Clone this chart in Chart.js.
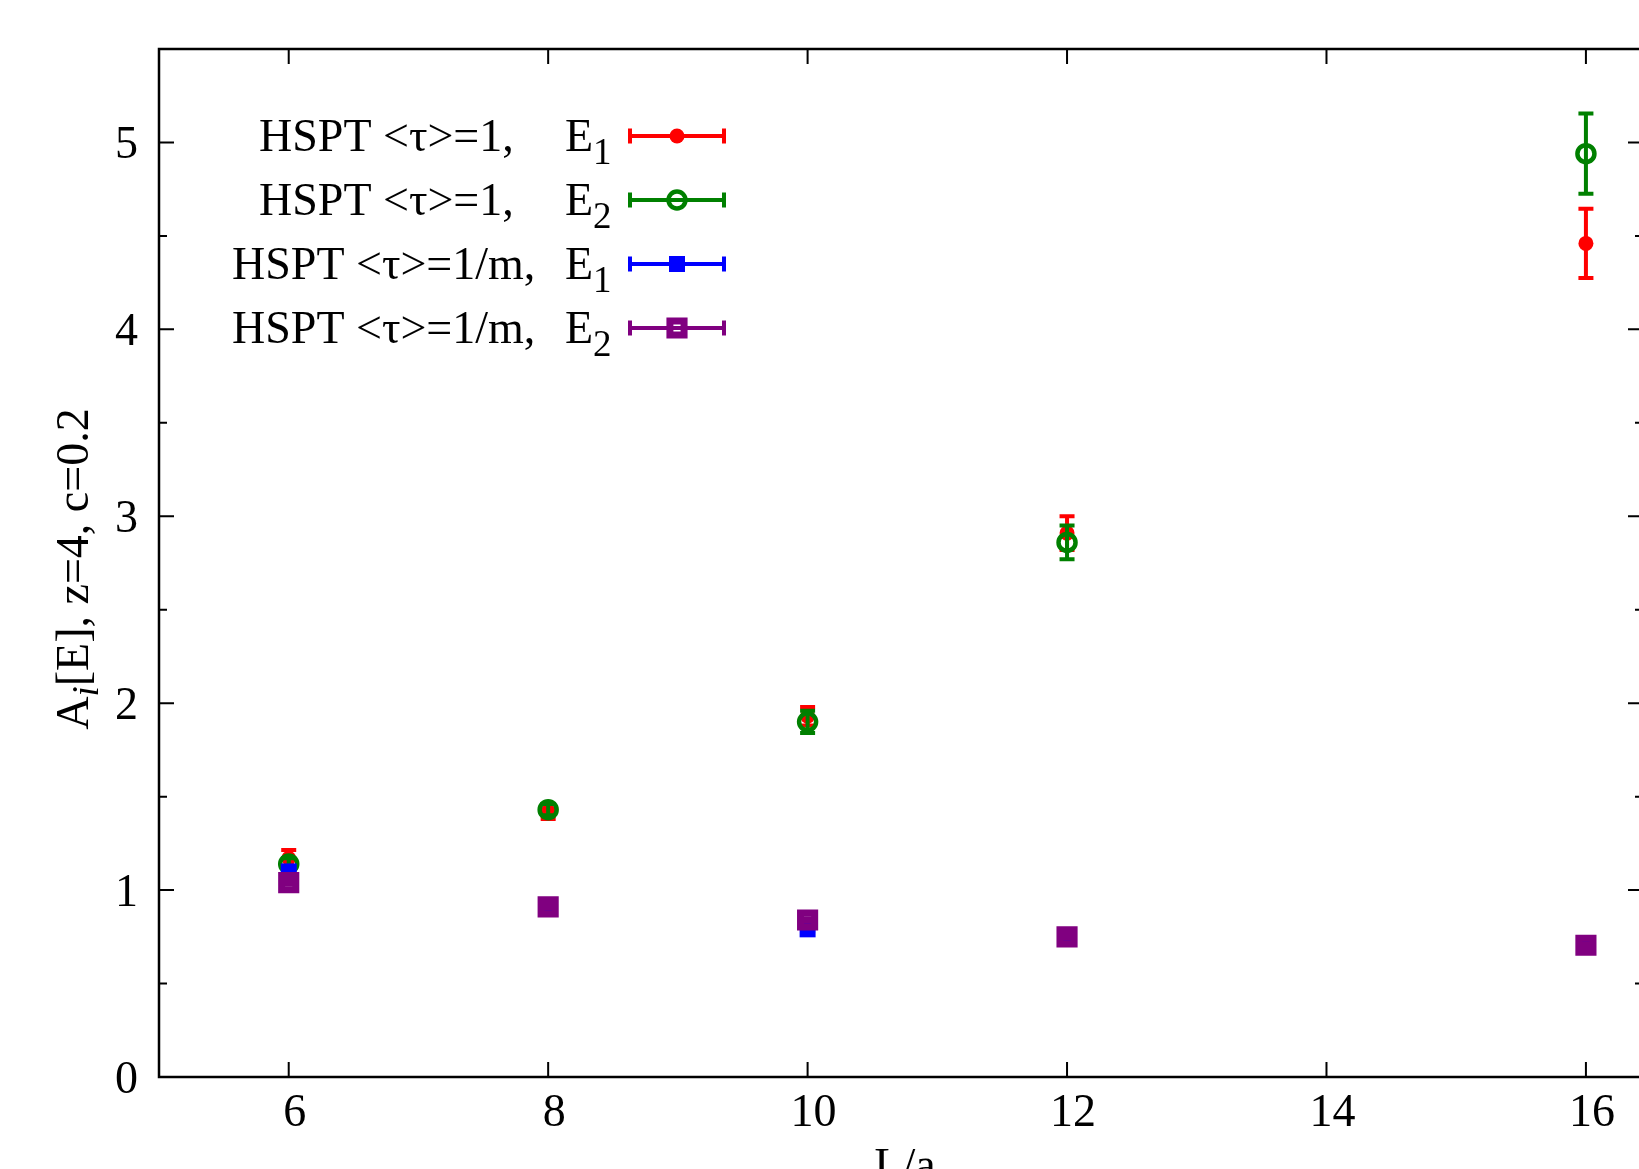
<!DOCTYPE html>
<html>
<head>
<meta charset="utf-8">
<script src="https://cdn.jsdelivr.net/npm/chart.js@4.4.1/dist/chart.umd.min.js"></script>
<style>
  html, body { margin: 0; padding: 0; background: #fff; overflow: hidden; }
  #wrap { width: 1639px; height: 1169px; overflow: hidden; }
</style>
</head>
<body>
<div id="wrap"><canvas id="plot" width="1660" height="1169"></canvas></div>
<script>
// values
const xValues = [6, 8, 10, 12, 16];

const tau1E1 = [1.17, 1.42, 1.93, 2.91, 4.46];
const tau1E1Err = [0.045, 0.04, 0.05, 0.09, 0.185];

const tau1E2 = [1.14, 1.43, 1.90, 2.86, 4.94];
const tau1E2Err = [0.03, 0.03, 0.06, 0.09, 0.215];

const taumE1 = [1.10, 0.90, 0.79, 0.74, 0.70];
const taumE1Err = [0.01, 0.01, 0.01, 0.01, 0.01];

const taumE2 = [1.04, 0.91, 0.84, 0.75, 0.705];
const taumE2Err = [0.01, 0.01, 0.01, 0.01, 0.01];

const xTicks = [6, 8, 10, 12, 14, 16];
const yTicks = [0, 1, 2, 3, 4, 5];
const yMinorTicks = [0.5, 1.5, 2.5, 3.5, 4.5];

const FONT = "'Liberation Serif', 'DejaVu Serif', serif";

function points(vals, errs) {
    return xValues.map((x, i) => ({ x: x, y: vals[i], err: errs[i] }));
}

const seriesInfo = [
    { prefix: 'HSPT <\u03c4>=1,', sub: '1', color: '#ff0000', style: 'circle', radius: 7.5, border: 0, fill: '#ff0000', px: 259 },
    { prefix: 'HSPT <\u03c4>=1,', sub: '2', color: '#008000', style: 'circle', radius: 8.5, border: 4.5, fill: 'rgba(0,0,0,0)', px: 259 },
    { prefix: 'HSPT <\u03c4>=1/m,', sub: '1', color: '#0000ff', style: 'rect', radius: 11.3, border: 0, fill: '#0000ff', px: 232 },
    { prefix: 'HSPT <\u03c4>=1/m,', sub: '2', color: '#800080', style: 'rect', radius: 10, border: 7, fill: 'rgba(0,0,0,0)', px: 232 }
];

// error bars go under each dataset's own markers
const errorBars = {
    id: 'errorBars',
    beforeDatasetDraw(chart, args) {
        const ds = chart.data.datasets[args.index];
        const ctx = chart.ctx;
        const x = chart.scales.x, y = chart.scales.y;
        ctx.save();
        ctx.strokeStyle = ds.borderColor;
        ctx.lineWidth = 4;
        ds.data.forEach(p => {
            const px = x.getPixelForValue(p.x);
            const top = y.getPixelForValue(p.y + p.err);
            const bot = y.getPixelForValue(p.y - p.err);
            ctx.beginPath();
            ctx.moveTo(px, top); ctx.lineTo(px, bot);
            ctx.moveTo(px - 7.5, top); ctx.lineTo(px + 7.5, top);
            ctx.moveTo(px - 7.5, bot); ctx.lineTo(px + 7.5, bot);
            ctx.stroke();
        });
        ctx.restore();
    }
};

// frame, ticks, labels, titles and key, gnuplot style
const frame = {
    id: 'frame',
    afterDraw(chart) {
        const ctx = chart.ctx;
        const a = chart.chartArea;
        const x = chart.scales.x, y = chart.scales.y;
        ctx.save();
        ctx.strokeStyle = '#000';
        ctx.lineWidth = 2.5;
        ctx.strokeRect(a.left, a.top, a.right - a.left, a.bottom - a.top);

        ctx.beginPath();
        xTicks.forEach(v => {
            const px = x.getPixelForValue(v);
            ctx.moveTo(px, a.bottom); ctx.lineTo(px, a.bottom - 15);
            ctx.moveTo(px, a.top); ctx.lineTo(px, a.top + 15);
        });
        yTicks.forEach(v => {
            const py = y.getPixelForValue(v);
            ctx.moveTo(a.left, py); ctx.lineTo(a.left + 15, py);
            ctx.moveTo(a.right, py); ctx.lineTo(a.right - 15, py);
        });
        yMinorTicks.forEach(v => {
            const py = y.getPixelForValue(v);
            ctx.moveTo(a.left, py); ctx.lineTo(a.left + 8, py);
            ctx.moveTo(a.right, py); ctx.lineTo(a.right - 8, py);
        });
        ctx.lineWidth = 2;
        ctx.stroke();

        ctx.fillStyle = '#000';
        ctx.font = '46px ' + FONT;
        ctx.textAlign = 'center';
        ctx.textBaseline = 'alphabetic';
        xTicks.forEach(v => {
            ctx.fillText(String(v), x.getPixelForValue(v) + 6, a.bottom + 49);
        });
        ctx.textAlign = 'right';
        yTicks.forEach(v => {
            ctx.fillText(String(v), a.left - 21, y.getPixelForValue(v) + 16);
        });

        // x title
        ctx.textAlign = 'center';
        ctx.fillText('L/a', 905, a.bottom + 103);

        // y title with italic subscript
        ctx.save();
        ctx.translate(88, 569);
        ctx.rotate(-Math.PI / 2);
        const partA = 'A', partRest = '[E], z=4, c=0.2';
        ctx.font = '46px ' + FONT;
        const wA = ctx.measureText(partA).width;
        const wRest = ctx.measureText(partRest).width;
        ctx.font = 'italic 37px ' + FONT;
        const wSub = ctx.measureText('i').width;
        let cx = -(wA + wSub + wRest) / 2;
        ctx.textAlign = 'left';
        ctx.font = '46px ' + FONT;
        ctx.fillText(partA, cx, 0);
        cx += wA;
        ctx.font = 'italic 37px ' + FONT;
        ctx.fillText('i', cx, 10);
        cx += wSub;
        ctx.font = '46px ' + FONT;
        ctx.fillText(partRest, cx, 0);
        ctx.restore();

        // key
        seriesInfo.forEach((s, i) => {
            const rowY = 136 + i * 64;
            ctx.fillStyle = '#000';
            ctx.textAlign = 'left';
            ctx.font = '46px ' + FONT;
            ctx.fillText(s.prefix, s.px, rowY + 15);
            ctx.fillText('E', 565, rowY + 15);
            const wE = ctx.measureText('E').width;
            ctx.font = '37px ' + FONT;
            ctx.fillText(s.sub, 565 + wE, rowY + 28);

            ctx.strokeStyle = s.color;
            ctx.lineWidth = 4;
            ctx.beginPath();
            ctx.moveTo(630, rowY); ctx.lineTo(724, rowY);
            ctx.moveTo(630, rowY - 7.5); ctx.lineTo(630, rowY + 7.5);
            ctx.moveTo(724, rowY - 7.5); ctx.lineTo(724, rowY + 7.5);
            ctx.stroke();
            ctx.fillStyle = s.fill;
            ctx.lineWidth = s.border;
            Chart.helpers.drawPoint(ctx, { pointStyle: s.style, radius: s.radius, rotation: 0, borderWidth: s.border }, 677, rowY);
        });
        ctx.restore();
    }
};

const allVals = [[tau1E1, tau1E1Err], [tau1E2, tau1E2Err], [taumE1, taumE1Err], [taumE2, taumE2Err]];

const datasets = seriesInfo.map((s, i) => ({
    label: s.prefix + ' E' + s.sub,
    data: points(allVals[i][0], allVals[i][1]),
    pointStyle: s.style,
    pointRadius: s.radius,
    pointBackgroundColor: s.fill,
    pointBorderColor: s.color,
    pointBorderWidth: s.border,
    borderColor: s.color,
    showLine: false,
    order: 4 - i,
    clip: false
}));

new Chart(document.getElementById('plot').getContext('2d'), {
    type: 'scatter',
    data: { datasets: datasets },
    options: {
        responsive: false,
        animation: false,
        layout: { padding: { left: 159, top: 49, right: 8, bottom: 92 } },
        plugins: { legend: { display: false }, tooltip: { enabled: false } },
        scales: {
            x: { type: 'linear', display: false, min: 5, max: 16.44 },
            y: { type: 'linear', display: false, min: 0, max: 5.5 }
        }
    },
    plugins: [errorBars, frame]
});
</script>
</body>
</html>
